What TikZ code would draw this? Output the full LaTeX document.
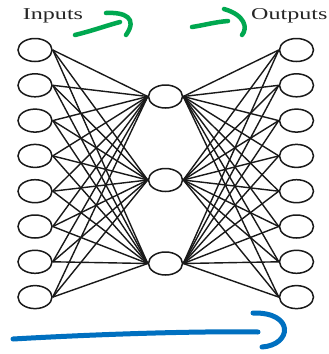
\documentclass[tikz,border=0pt]{standalone}
\usepackage{fontspec}
\setmainfont{Liberation Serif}
\usetikzlibrary{shapes.geometric}
\definecolor{penGreen}{RGB}{0,168,80}
\definecolor{penBlue}{RGB}{0,112,192}
\tikzset{
  neuron/.style={ellipse, draw=black!90, line width=1.5pt, minimum width=34pt, minimum height=23pt, inner sep=0pt, fill=white},
  wire/.style={draw=black!90, line width=1.4pt},
  label/.style={inner sep=0pt, text=black!85, font=\fontsize{16.6}{20}\selectfont},
  greenpen/.style={draw=penGreen, line width=4.5pt, line cap=round},
  bluepen/.style={draw=penBlue, line width=5pt, line cap=round}
}
\begin{document}
\begin{tikzpicture}[x=1pt,y=-1pt]
\fill[white] (0,0) rectangle (329,354);
\useasboundingbox (0,0) rectangle (329,354);
% layers
\foreach \i in {1,...,8}{
  \pgfmathsetmacro{\yy}{50+35.3*(\i-1)}
  \node[neuron] (L\i) at (35,\yy) {};
  \node[neuron] (R\i) at (296.5,\yy) {};
}
\node[neuron] (M1) at (165.5,96.5) {};
\node[neuron] (M2) at (165.5,180) {};
\node[neuron] (M3) at (165.5,263.5) {};
% connectors
\foreach \i in {1,...,8}{
  \foreach \j in {1,2,3}{
    \draw[wire] (L\i.east) -- (M\j.west);
    \draw[wire] (M\j.east) -- (R\i.west);
  }
}
% labels
\node[label, anchor=base] (tin) at (53,19) {\scalebox{1.45}[1]{Inputs}};
\node[label, anchor=base west] (tout) at (251,19) {\scalebox{1.45}[1]{Outputs}};
% hand drawn strokes
\draw[greenpen] (75,35) .. controls (95,30) and (105,26) .. (120,22);
\draw[greenpen] (106,13) .. controls (125,12) and (138,18) .. (126,35);
\draw[greenpen] (192,27) .. controls (205,25) and (215,22) .. (228,21);
\draw[greenpen] (224,9) .. controls (245,15) and (248,28) .. (242,35);
\draw[bluepen] (13,339) .. controls (100,334) and (200,331) .. (258,332);
\draw[bluepen] (253,313) .. controls (295,312) and (292,345) .. (262,347);
\end{tikzpicture}
\end{document}
